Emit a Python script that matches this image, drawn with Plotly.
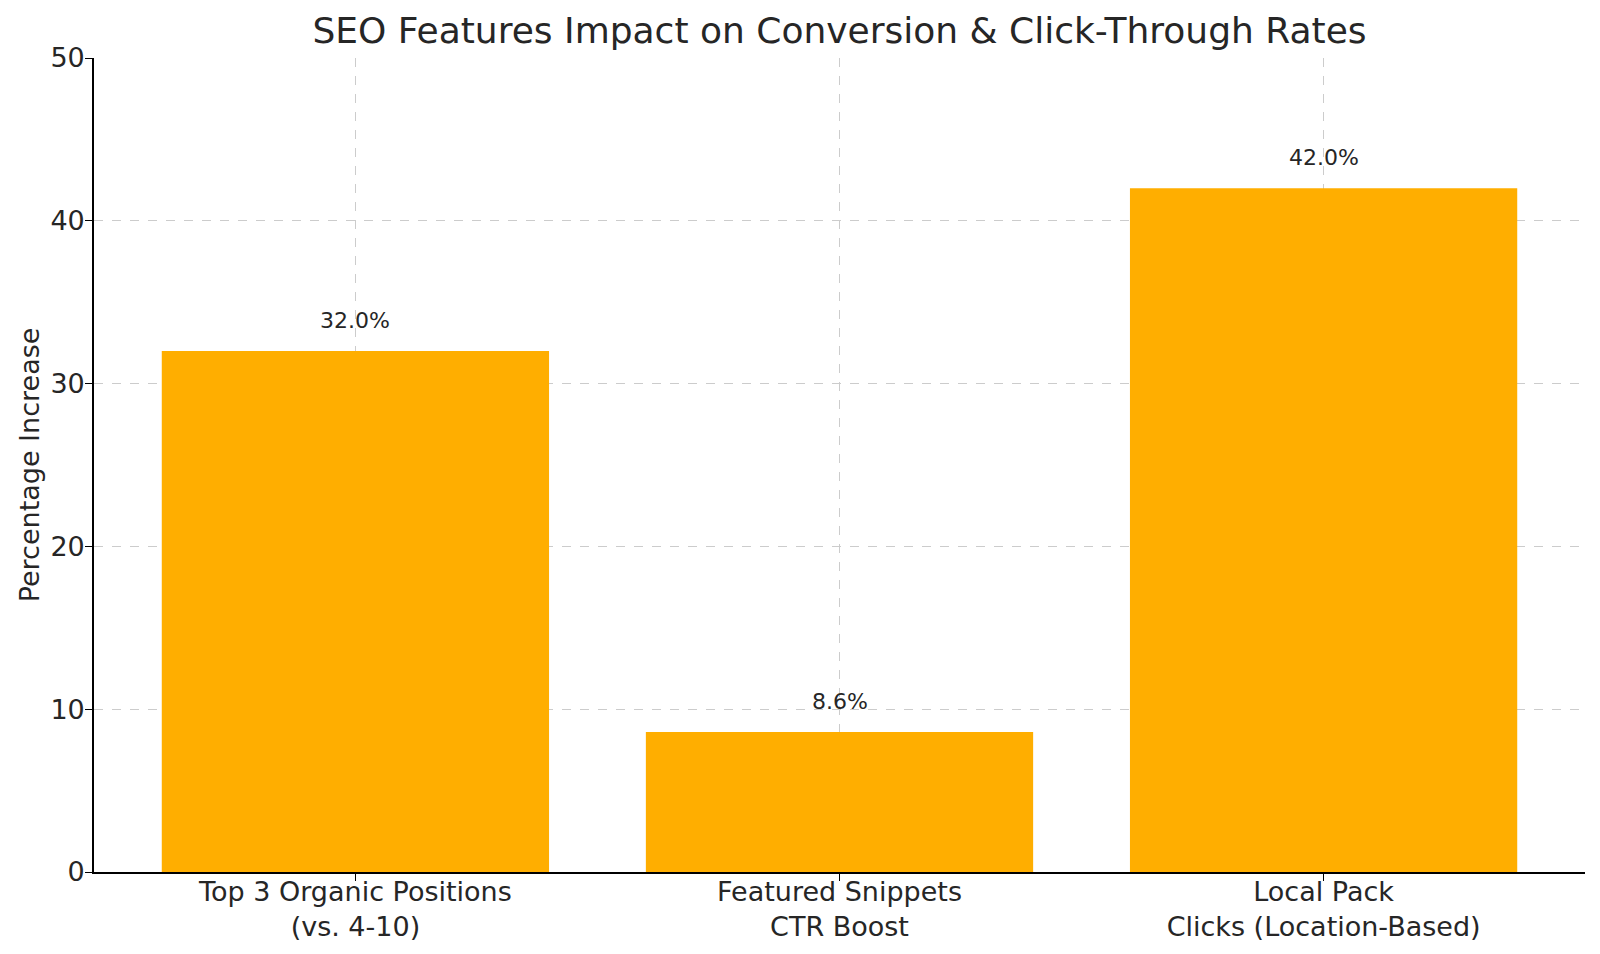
import plotly.graph_objects as go

# Chart data
categories = ["Top 3 Organic Positions<br>(vs. 4-10)", "Featured Snippets<br>CTR Boost",
              "Local Pack<br>Clicks (Location-Based)"]
values = [32.0, 8.6, 42.0]
y_ticks = [0, 10, 20, 30, 40, 50]

font_family = "DejaVu Sans"
text_color = "#262626"

fig = go.Figure()

fig.add_trace(go.Bar(
    x=categories,
    y=values,
    width=0.8,
    marker=dict(color="#FFAE00", line=dict(width=0)),
    hoverinfo="x+y",
))

# value labels just above each bar
for cat, val in zip(categories, values):
    fig.add_annotation(x=cat, y=val + 1, text=f"{val:.1f}%", showarrow=False,
                       yanchor="bottom", font=dict(size=22, color=text_color))

fig.update_layout(
    width=1600,
    height=954,
    margin=dict(l=94, r=15, t=58, b=82, autoexpand=False),
    paper_bgcolor="white",
    plot_bgcolor="white",
    font=dict(family=font_family, color=text_color),
    title=dict(text="SEO Features Impact on Conversion & Click-Through Rates",
               x=0.5, xref="paper", xanchor="center", y=1 - 30 / 954, yanchor="middle",
               font=dict(size=36, color=text_color)),
    showlegend=False,
)

fig.update_xaxes(
    range=[-0.54, 2.54],
    showline=True, linecolor="black", linewidth=1.6,
    ticks="outside", ticklen=7, tickcolor="black",
    ticklabelstandoff=-12,
    showgrid=True, gridcolor="#cccccc", griddash="dash", gridwidth=1,
    tickfont=dict(size=27, color=text_color),
    automargin=False,
    layer="above traces",
)

fig.update_yaxes(
    range=[0, 50],
    tickvals=y_ticks,
    showline=True, linecolor="black", linewidth=1.6,
    ticks="outside", ticklen=7, tickcolor="black",
    ticklabelstandoff=-5,
    showgrid=True, gridcolor="#cccccc", griddash="dash", gridwidth=1,
    zeroline=False,
    tickfont=dict(size=27, color=text_color),
    title=dict(text="Percentage Increase", font=dict(size=27, color=text_color), standoff=3),
    automargin=False,
    layer="above traces",
)

# drop the browser's default body margin so the figure sits at the page corner
fig.write_html("out.html", config={"displayModeBar": False},
               post_script="document.body.style.margin = '0';")
